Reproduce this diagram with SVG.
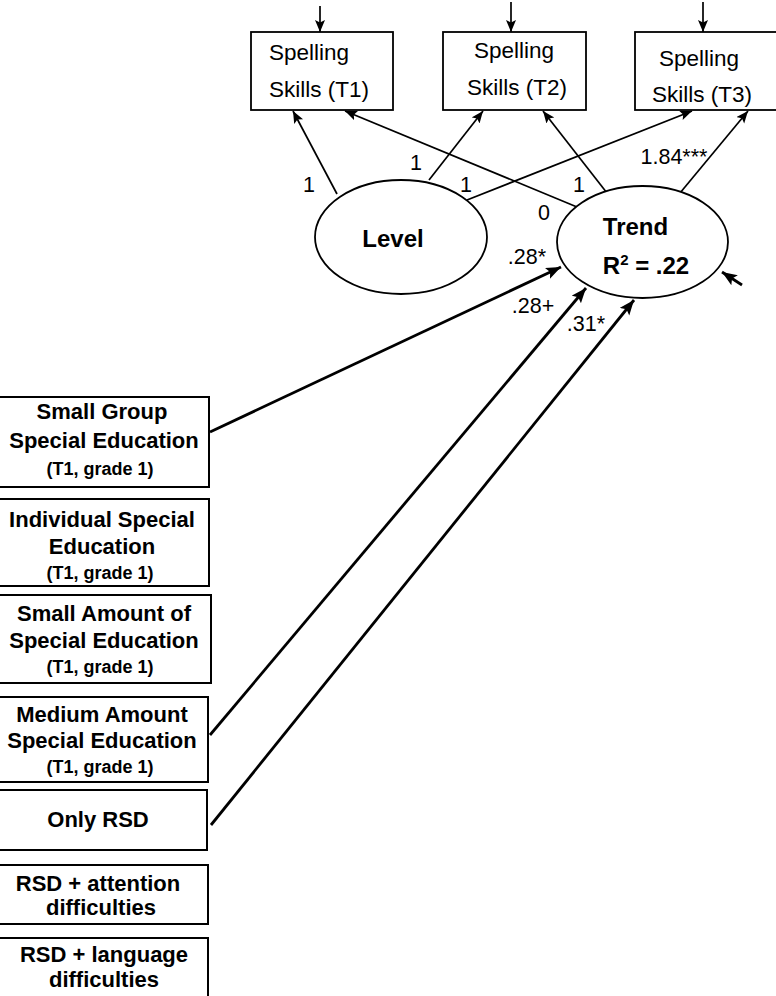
<svg xmlns="http://www.w3.org/2000/svg" width="776" height="996" viewBox="0 0 776 996">
<style>
.bx{fill:#fff;stroke:#000;stroke-width:1.8}
.lb{fill:#fff;stroke:#000;stroke-width:2}
.el{fill:#fff;stroke:#000;stroke-width:1.8}
.t{font-family:"Liberation Sans",Arial,sans-serif;font-size:22.5px;fill:#000}
.tb{font-family:"Liberation Sans",Arial,sans-serif;font-size:22px;font-weight:bold;fill:#000;text-anchor:middle}
.ts{font-family:"Liberation Sans",Arial,sans-serif;font-size:18px;font-weight:bold;fill:#000;text-anchor:middle}
.te{font-family:"Liberation Sans",Arial,sans-serif;font-size:24px;font-weight:bold;fill:#000;text-anchor:middle}
.lab{font-family:"Liberation Sans",Arial,sans-serif;font-size:21.5px;fill:#000;text-anchor:middle}
.thin{stroke:#000;stroke-width:1.7;fill:none;marker-end:url(#ah)}
.thick{stroke:#000;stroke-width:2.8;fill:none;marker-end:url(#ahb)}
</style>
<defs>
<marker id="ah" markerUnits="userSpaceOnUse" markerWidth="14" markerHeight="11" refX="12" refY="5" orient="auto" viewBox="0 0 14 11">
<path d="M0,0 L12,5 L0,10 L2.5,5 z" fill="#000"/>
</marker>
<marker id="ahb" markerUnits="userSpaceOnUse" markerWidth="16" markerHeight="13" refX="15" refY="6" orient="auto" viewBox="0 0 16 13">
<path d="M0,0 L15,6 L0,12 L3,6 z" fill="#000"/>
</marker>
</defs>

<g id="connectors">
<line class="thin" x1="320" y1="6" x2="320" y2="32"/>
<line class="thin" x1="511" y1="2" x2="511" y2="32"/>
<line class="thin" x1="703" y1="2" x2="703" y2="32"/>
<line class="thin" x1="337" y1="194" x2="293" y2="111"/>
<line class="thin" x1="429" y1="180" x2="483" y2="111"/>
<line class="thin" x1="467" y1="200" x2="692" y2="111"/>
<line class="thin" x1="577" y1="207" x2="345" y2="111"/>
<line class="thin" x1="607" y1="193" x2="543" y2="111"/>
<line class="thin" x1="680" y1="193" x2="748" y2="111"/>
<line class="thick" x1="210" y1="432" x2="561" y2="267"/>
<line class="thick" x1="210" y1="735" x2="586" y2="288"/>
<line class="thick" x1="211" y1="825" x2="634" y2="300"/>
<line class="thick" x1="742" y1="285" x2="722" y2="272"/>
</g>

<g id="t1">
<rect class="bx" x="251" y="32" width="142" height="78"/>
<text class="t" x="269" y="60">Spelling</text>
<text class="t" x="269" y="97">Skills (T1)</text>
</g>
<g id="t2">
<rect class="bx" x="443" y="32" width="143" height="78"/>
<text class="t" x="474" y="58">Spelling</text>
<text class="t" x="467" y="95">Skills (T2)</text>
</g>
<g id="t3">
<rect class="bx" x="635" y="32" width="150" height="78"/>
<text class="t" x="659" y="66">Spelling</text>
<text class="t" x="652" y="102">Skills (T3)</text>
</g>

<g id="level">
<ellipse class="el" cx="401" cy="237" rx="86" ry="57"/>
<text class="te" x="393" y="247">Level</text>
</g>
<g id="trend">
<ellipse class="el" cx="642.5" cy="242" rx="85.5" ry="56"/>
<text class="te" x="635.5" y="235">Trend</text>
<text class="te" x="646" y="274">R<tspan font-size="15" dy="-9">2</tspan><tspan dy="9"> = .22</tspan></text>
</g>

<g id="labels">
<text class="lab" x="309" y="192">1</text>
<text class="lab" x="416" y="170">1</text>
<text class="lab" x="466" y="192">1</text>
<text class="lab" x="579" y="192">1</text>
<text class="lab" x="544" y="220">0</text>
<text class="lab" x="674" y="164">1.84***</text>
<text class="lab" x="527" y="264">.28*</text>
<text class="lab" x="533" y="313">.28+</text>
<text class="lab" x="586" y="331">.31*</text>
</g>

<g id="small-group">
<rect class="lb" x="-2" y="397" width="211" height="90"/>
<text class="tb" x="102" y="419">Small Group</text>
<text class="tb" x="104" y="448">Special Education</text>
<text class="ts" x="100" y="475">(T1, grade 1)</text>
</g>
<g id="individual">
<rect class="lb" x="-2" y="499" width="211" height="87"/>
<text class="tb" x="102" y="527">Individual Special</text>
<text class="tb" x="102" y="554">Education</text>
<text class="ts" x="100" y="579">(T1, grade 1)</text>
</g>
<g id="small-amount">
<rect class="lb" x="-2" y="595" width="213" height="88"/>
<text class="tb" x="104" y="621">Small Amount of</text>
<text class="tb" x="104" y="648">Special Education</text>
<text class="ts" x="100" y="673">(T1, grade 1)</text>
</g>
<g id="medium-amount">
<rect class="lb" x="-2" y="697" width="210" height="85"/>
<text class="tb" x="102" y="722">Medium Amount</text>
<text class="tb" x="102" y="748">Special Education</text>
<text class="ts" x="100" y="773">(T1, grade 1)</text>
</g>
<g id="only-rsd">
<rect class="lb" x="-2" y="790" width="209" height="60"/>
<text class="tb" x="98" y="827">Only RSD</text>
</g>
<g id="rsd-attention">
<rect class="lb" x="-2" y="865" width="210" height="59"/>
<text class="tb" x="98" y="891">RSD + attention</text>
<text class="tb" x="101" y="915">difficulties</text>
</g>
<g id="rsd-language">
<rect class="lb" x="-2" y="938" width="210" height="64"/>
<text class="tb" x="104" y="962">RSD + language</text>
<text class="tb" x="104" y="987">difficulties</text>
</g>
</svg>
